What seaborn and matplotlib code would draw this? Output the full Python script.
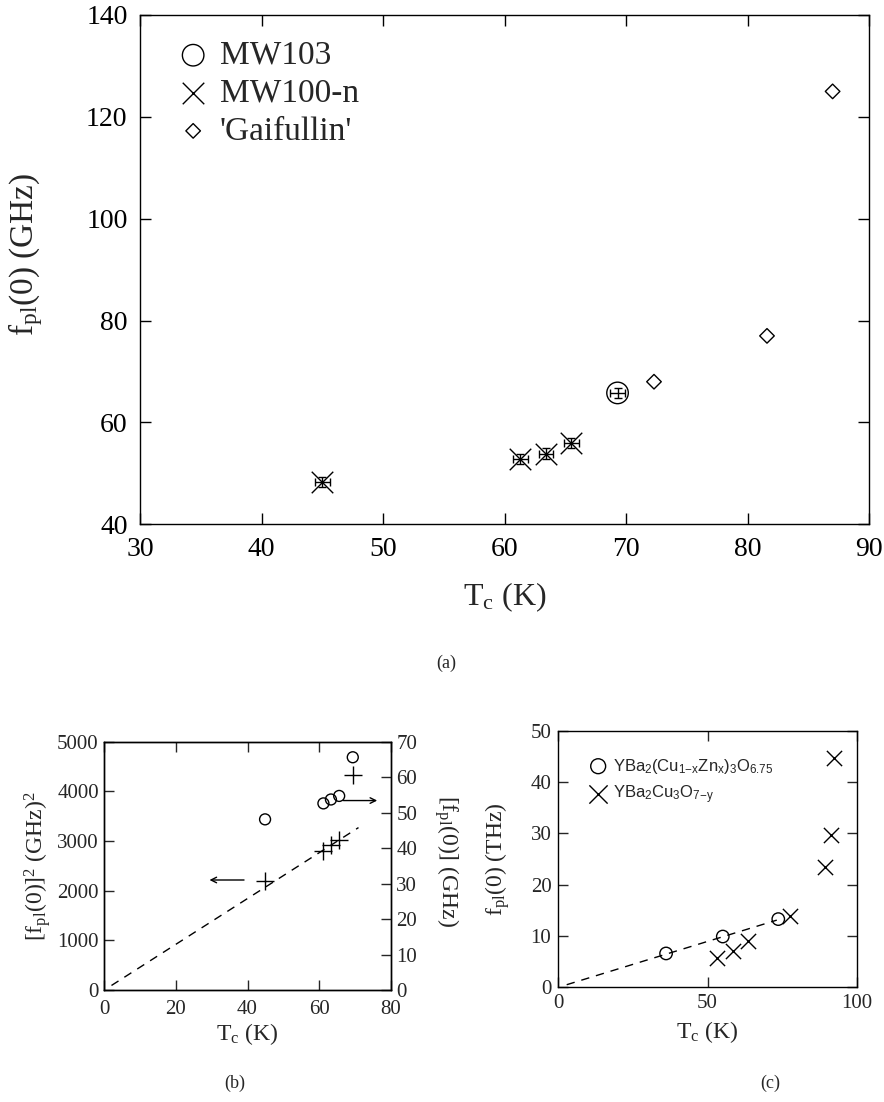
import numpy as np
import pandas as pd
import matplotlib
matplotlib.use('Agg')
import matplotlib.pyplot as plt
import seaborn as sns

# --- data ---
# (a) plasma frequency vs Tc
mw103_tc = [69.3]
mw103_f = [65.8]
mw100_tc = [45.0, 61.3, 63.4, 65.5]
mw100_f = [48.3, 52.9, 53.9, 55.9]
mw_tc_err = [0.6, 0.6, 0.6, 0.6, 0.6]
mw_f_err = [1.0, 1.0, 1.0, 1.0, 1.0]
gaif_tc = [72.3, 81.6, 87.0]
gaif_f = [68.0, 77.0, 125.0]

# (b) squared plasma frequency (left) and f_pl (right)
b_tc = [44.9, 61.2, 63.3, 65.6, 69.4]
b_f2 = [2200, 2790, 2910, 3020, 4330]
b_f = [48.1, 52.6, 53.7, 54.7, 65.6]
b_fit_tc = [2.0, 71.0]
b_fit_f2 = [92, 3270]
b_arrow_left = [39.8, 28.6, 2215]   # x from, x to, y (left axis)
b_arrow_right = [66.0, 77.0, 53.4]  # x from, x to, y (right axis)

# (c) THz data
zn_tc = [36.1, 55.1, 73.7]
zn_f = [6.6, 9.9, 13.3]
ybco_tc = [53.1, 58.4, 63.7, 77.6, 89.4, 91.3, 92.4]
ybco_f = [5.8, 7.1, 9.0, 13.9, 23.5, 29.8, 44.8]
c_fit_tc = [2.8, 73.2]
c_fit_f = [0.5, 13.1]

sns.set_style('ticks')
plt.rcParams['font.family'] = ['Liberation Serif', 'DejaVu Serif']
plt.rcParams['mathtext.fontset'] = 'custom'
plt.rcParams['mathtext.rm'] = 'Liberation Serif'
plt.rcParams['mathtext.it'] = 'Liberation Serif:italic'
plt.rcParams['mathtext.sf'] = 'Liberation Sans'
plt.rcParams['axes.linewidth'] = 1.0
plt.rcParams['axes.edgecolor'] = 'black'

fig = plt.figure(figsize=(8.84, 11.02), dpi=100)

# ---------------- (a) ----------------
ax = fig.add_axes([0.1584, 0.5242, 0.8247, 0.4622])
ax.errorbar(mw103_tc + mw100_tc, mw103_f + mw100_f, xerr=mw_tc_err, yerr=mw_f_err,
            fmt='none', ecolor='black', elinewidth=1, capsize=3, capthick=1)
sns.scatterplot(x=mw103_tc, y=mw103_f, ax=ax, marker='o', s=240, facecolor='none',
                edgecolor='black', linewidth=1, label='MW103')
sns.scatterplot(x=mw100_tc, y=mw100_f, ax=ax, marker='x', s=240, color='black',
                linewidth=1, label='MW100-n')
sns.scatterplot(x=gaif_tc, y=gaif_f, ax=ax, marker='D', s=55, facecolor='none',
                edgecolor='black', linewidth=1, label="'Gaifullin'")
ax.set_xlim(30, 90)
ax.set_ylim(40, 140)
ax.set_xticks(np.arange(30, 91, 10))
ax.set_yticks(np.arange(40, 141, 20))
ax.tick_params(direction='in', length=8, width=1, top=True, right=True,
               labelsize=20, colors='black', pad=9)
ax.set_xlabel(r'T$_{\mathrm{c}}$ (K)', fontsize=23)
ax.set_ylabel(r'f$_{\mathrm{pl}}$(0) (GHz)', fontsize=24)
ax.xaxis.set_label_coords(0.5, -0.11)
ax.yaxis.set_label_coords(-0.13, 0.53)
ax.legend(loc='upper left', bbox_to_anchor=(0.05, 0.95), frameon=False, fontsize=24,
          handlelength=1.0, handletextpad=0.3, labelspacing=0.22, borderpad=0,
          borderaxespad=0)
fig.text(446.7 / 884, 1 - 663 / 1102, '(a)', fontsize=13, ha='center', va='center')

# ---------------- (b) ----------------
axb = fig.add_axes([0.118, 0.1016, 0.324, 0.2254])
axb2 = axb.twinx()
sns.lineplot(x=b_fit_tc, y=b_fit_f2, ax=axb, color='black', linewidth=1,
             linestyle=(0, (6, 5)))
sns.scatterplot(x=b_tc, y=b_f2, ax=axb, marker='+', s=150, color='black', linewidth=1)
sns.scatterplot(x=b_tc, y=b_f, ax=axb2, marker='o', s=62, facecolor='none',
                edgecolor='black', linewidth=1)
axb.annotate('', xy=(b_arrow_left[1], b_arrow_left[2]), xytext=(b_arrow_left[0], b_arrow_left[2]),
             arrowprops=dict(arrowstyle='->', color='black', lw=1))
axb2.annotate('', xy=(b_arrow_right[1], b_arrow_right[2]), xytext=(b_arrow_right[0], b_arrow_right[2]),
              arrowprops=dict(arrowstyle='->', color='black', lw=1))
axb.set_xlim(0, 80)
axb.set_ylim(0, 5000)
axb2.set_ylim(0, 70)
axb.set_xticks(np.arange(0, 81, 20))
axb.set_yticks(np.arange(0, 5001, 1000))
axb2.set_yticks(np.arange(0, 71, 10))
axb.tick_params(axis='y', direction='in', length=7, width=1, right=False, labelsize=15, pad=4)
axb.tick_params(axis='x', direction='in', length=7, width=1, top=True, labelsize=15, pad=7)
axb2.tick_params(direction='in', length=7, width=1, labelsize=15, pad=4)
axb.set_xlabel(r'T$_{\mathrm{c}}$ (K)', fontsize=17)
axb.set_ylabel(r'[f$_{\mathrm{pl}}$(0)]$^2$ (GHz)$^2$', fontsize=17)
axb2.set_ylabel(r'[f$_{\mathrm{pl}}$(0)] (GHz)', fontsize=17, rotation=270, va='bottom')
axb.xaxis.set_label_coords(0.5, -0.125)
axb.yaxis.set_label_coords(-0.18, 0.5)
axb2.yaxis.set_label_coords(1.145, 0.52)
fig.text(235 / 884, 1 - 1083 / 1102, '(b)', fontsize=13, ha='center', va='center')

# ---------------- (c) ----------------
axc = fig.add_axes([0.6316, 0.1041, 0.3376, 0.2326])
sns.lineplot(x=c_fit_tc, y=c_fit_f, ax=axc, color='black', linewidth=1,
             linestyle=(0, (6, 5)))
sns.scatterplot(x=zn_tc, y=zn_f, ax=axc, marker='o', s=80, facecolor='none',
                edgecolor='black', linewidth=1,
                label=r'YBa$_\mathsf{2}$(Cu$_\mathsf{1{-}x}$Zn$_\mathsf{x}$)$_\mathsf{3}$O$_\mathsf{6.75}$')
sns.scatterplot(x=ybco_tc, y=ybco_f, ax=axc, marker='x', s=120, color='black',
                linewidth=1, label=r'YBa$_\mathsf{2}$Cu$_\mathsf{3}$O$_\mathsf{7{-}y}$')
axc.set_xlim(0, 100)
axc.set_ylim(0, 50)
axc.set_xticks([0, 50, 100])
axc.set_yticks(np.arange(0, 51, 10))
axc.tick_params(direction='in', length=7, width=1, top=True, right=True, labelsize=15, pad=5)
axc.set_xlabel(r'T$_{\mathrm{c}}$ (K)', fontsize=17)
axc.set_ylabel(r'f$_{\mathrm{pl}}$(0) (THz)', fontsize=17)
axc.xaxis.set_label_coords(0.5, -0.125)
axc.yaxis.set_label_coords(-0.155, 0.5)
axc.legend(loc='upper left', bbox_to_anchor=(0.1, 0.9), frameon=False,
           prop={'family': 'Liberation Sans', 'size': 12}, markerscale=1.2,
           handlelength=1.2, handletextpad=0.3, labelspacing=0.5, borderpad=0,
           borderaxespad=0)
fig.text(770 / 884, 1 - 1083 / 1102, '(c)', fontsize=13, ha='center', va='center')

fig.savefig('out.png', dpi=100)
